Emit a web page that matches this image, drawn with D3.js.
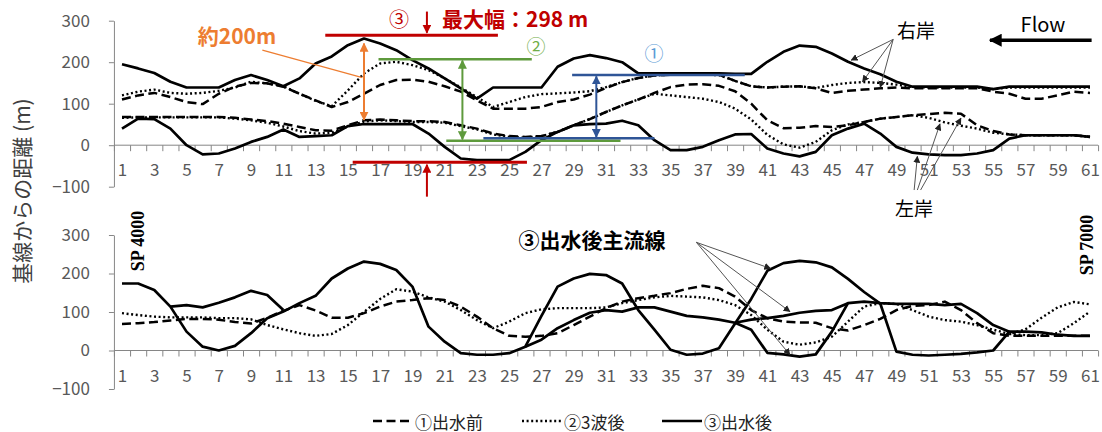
<!DOCTYPE html>
<html>
<head>
<meta charset="utf-8">
<script src="https://cdn.jsdelivr.net/npm/d3@7"></script>
<style>
  body { margin: 0; background: #fff; }
  svg text { font-family: "Noto Sans CJK JP", "Noto Sans", sans-serif; }
</style>
</head>
<body>
<div id="chart"></div>
<script>
// 断面番号 1..61
const sections = d3.range(1, 62);
const oddLabels = sections.filter(d => d % 2 === 1);
const yTicks = [-100, 0, 100, 200, 300];

// 上段：河岸位置 (基線からの距離 m)
const rightBank1 = [110,120,126,116,104,99,124,141,150,149, 141,124,108,92,104,124,145,157,158,153,
  142,129,108,88,88,88,92,104,110,122, 138,152,162,168,170,170,170,170,155,142,
  139,141,142,137,126,131,134,137,139,137, 137,137,137,137,129,124,112,112,120,129, 126];
const rightBank2 = [120,129,134,126,124,126,131,139,153,149, 142,124,107,94,132,173,197,201,193,181,
  161,139,116,92,104,116,123,125,127,130, 140,152,162,168,170,170,170,169,155,142,
  139,141,142,138,145,150,152,150,146,140, 139,139,139,139,135,139,139,139,139,139, 139];
const rightBank3 = [195,185,174,153,139,139,139,157,169,157, 142,161,197,214,241,257,245,229,205,185,
  161,137,112,139,139,139,139,189,209,217, 210,200,173,173,173,173,173,173,172,172,
  201,225,240,237,221,201,185,171,153,141, 141,141,141,141,135,141,141,141,141,141, 141];
const leftBank1 = [68,68,68,68,68,68,68,66,62,58, 52,44,36,35,48,60,62,60,58,58,
  56,48,40,28,22,20,22,32,48,63, 80,96,110,126,140,146,147,143,130,100,
  60,41,42,46,44,48,56,64,68,72, 75,78,76,48,34,26,24,24,24,24, 20];
const leftBank2 = [66,67,67,67,67,67,67,64,60,54, 45,34,28,30,45,57,60,58,56,56,
  54,46,38,26,20,18,22,32,48,63, 80,96,110,124,120,116,112,104,88,62,
  25,2,-6,8,36,50,56,64,68,72, 66,55,47,40,30,26,24,24,24,24, 20];
const leftBank3 = [40,64,63,40,0,-22,-20,-8,8,20, 38,20,22,24,46,51,51,51,51,28,
  -4,-32,-36,-36,-36,-16,12,32,48,51, 52,59,48,12,-12,-12,-4,12,26,27,
  -8,-20,-27,-16,24,40,52,28,-4,-18, -22,-24,-24,-20,-12,16,24,24,24,24, 20];

// 下段：主流線
const main1 = [69,71,74,78,82,82,80,74,70,85, 103,118,104,85,85,97,114,127,131,136,
  131,114,88,58,38,36,38,45,66,88, 110,127,136,142,149,160,168,162,140,105,
  84,75,73,72,58,52,66,82,105,116, 118,127,105,71,45,38,38,38,38,38, 38];
const main2 = [97,92,88,86,86,86,84,84,81,66, 55,45,38,43,66,100,134,159,153,138,
  127,105,79,58,75,97,107,110,110,110, 112,123,131,138,142,140,138,131,118,92,
  54,23,15,21,36,75,114,123,121,105, 88,79,75,66,54,43,55,85,112,126, 120];
const main3 = [174,174,157,114,49,10,0,12,45,84, 101,123,142,187,213,231,225,209,166,62,
  23,-7,-11,-11,-7,10,90,166,187,199, 196,174,105,54,2,-11,-8,6,70,134,
  207,227,233,229,216,186,152,122,-3,-11, -13,-11,-9,-5,0,49,49,47,41,38, 38];
// 分流した区間 [開始断面, 値]
const main2Branch = [[56, [43,40,40,45,71,101]]];
const main3Branch = [
  [4, [114,118,112,124,138,155,144,105]],
  [26, [10,28,58,79,98,105,101,112,112,101,90,86,80,72,54,-6,-10,-16,-10,49,123,127,123,121,121,121,118,121,97,66,49]]
];
const main3Branch2 = [[39, [72,80,84,90,98,103,105,123]]];

const legendItems = [
  { label: '①出水前', style: 'dash' },
  { label: '②3波後', style: 'dot' },
  { label: '③出水後', style: 'solid' }
];

const styles = {
  dash: { dash: '9,4.5', width: 2.5 },
  dot: { dash: '2,2.6', width: 2.4 },
  solid: { dash: null, width: 2.7 }
};

const W = 1102, H = 432;
const svg = d3.select('#chart').append('svg').attr('width', W).attr('height', H);

const x = d3.scaleLinear().domain([1, 61]).range([122, 1090]);
const yTop = d3.scaleLinear().domain([-100, 300]).range([186.7, 20.7]);
const yBot = d3.scaleLinear().domain([-100, 300]).range([389, 235]);

// arrowheads
const defs = svg.append('defs');
const markerColors = { red: '#c00000', green: '#5e9a3c', blue: '#2f5597', orange: '#ed7d31', black: '#000', gray: '#222' };
Object.entries(markerColors).forEach(([name, col]) => {
  const size = name === 'black' ? 13 : (name === 'gray' ? 7 : 9);
  defs.append('marker')
    .attr('id', 'arr-' + name)
    .attr('viewBox', '0 0 10 10')
    .attr('refX', 9).attr('refY', 5)
    .attr('markerUnits', 'userSpaceOnUse')
    .attr('markerWidth', size).attr('markerHeight', size)
    .attr('orient', 'auto-start-reverse')
    .append('path')
    .attr('d', 'M0,0 L10,5 L0,10 z')
    .attr('fill', col);
});

function drawAxes(y) {
  const axisCol = '#868686';
  const yAx = svg.append('g')
    .attr('transform', `translate(${x(0.5)},0)`)
    .call(d3.axisLeft(y).tickValues(yTicks).tickSize(5).tickSizeOuter(0).tickPadding(19));
  yAx.select('.domain').attr('stroke', axisCol);
  yAx.selectAll('.tick line').attr('stroke', axisCol);
  yAx.selectAll('.tick text').attr('fill', '#595959').style('font-size', '17px');

  svg.append('line')
    .attr('x1', x(0.5)).attr('x2', x(61.5))
    .attr('y1', y(0)).attr('y2', y(0))
    .attr('stroke', axisCol);

  const bounds = d3.range(0.5, 62, 1);
  const tickAx = svg.append('g')
    .attr('transform', `translate(0,${y(0)})`)
    .call(d3.axisBottom(x).tickValues(bounds).tickSize(6).tickFormat(''));
  tickAx.select('.domain').remove();
  tickAx.selectAll('.tick line').attr('stroke', axisCol);

  const labAx = svg.append('g')
    .attr('transform', `translate(0,${y(0)})`)
    .call(d3.axisBottom(x).tickValues(oddLabels).tickSize(0).tickPadding(19));
  labAx.select('.domain').remove();
  labAx.selectAll('.tick text').attr('fill', '#595959').style('font-size', '17px');
}

function drawSeries(y, values, style, start = 1) {
  const pts = values.map((v, i) => ({ s: start + i, v }));
  const st = styles[style];
  svg.append('path')
    .datum(pts)
    .attr('fill', 'none')
    .attr('stroke', '#000')
    .attr('stroke-width', st.width)
    .attr('stroke-dasharray', st.dash)
    .attr('stroke-linejoin', 'round')
    .attr('d', d3.line().defined(d => d.v != null).x(d => x(d.s)).y(d => y(d.v)));
}

drawAxes(yTop);
drawAxes(yBot);

// 上段
drawSeries(yTop, leftBank1, 'dash');
drawSeries(yTop, rightBank1, 'dash');
drawSeries(yTop, leftBank2, 'dot');
drawSeries(yTop, rightBank2, 'dot');
drawSeries(yTop, leftBank3, 'solid');
drawSeries(yTop, rightBank3, 'solid');

// 下段
drawSeries(yBot, main1, 'dash');
drawSeries(yBot, main2, 'dot');
main2Branch.forEach(([s, v]) => drawSeries(yBot, v, 'dot', s));
drawSeries(yBot, main3, 'solid');
main3Branch.forEach(([s, v]) => drawSeries(yBot, v, 'solid', s));
main3Branch2.forEach(([s, v]) => drawSeries(yBot, v, 'solid', s));

// ---- annotations (section, value) ----
function hLine(y, val, from, to, col, w) {
  svg.append('line')
    .attr('x1', x(from)).attr('x2', x(to))
    .attr('y1', y(val)).attr('y2', y(val))
    .attr('stroke', col).attr('stroke-width', w);
}
function arrow(y, s1, v1, s2, v2, col, marker, w, both) {
  const l = svg.append('line')
    .attr('x1', x(s1)).attr('y1', y(v1))
    .attr('x2', x(s2)).attr('y2', y(v2))
    .attr('stroke', col).attr('stroke-width', w)
    .attr('marker-end', `url(#arr-${marker})`);
  if (both) l.attr('marker-start', `url(#arr-${marker})`);
}
function label(px, py, text, opts = {}) {
  svg.append('text')
    .attr('x', px).attr('y', py)
    .attr('text-anchor', opts.anchor || 'middle')
    .attr('dominant-baseline', 'central')
    .attr('fill', opts.color || '#000')
    .style('font-size', (opts.size || 18) + 'px')
    .style('font-weight', opts.bold ? 'bold' : 'normal')
    .text(text);
}

// ③ 最大幅
hLine(yTop, 265, 13.6, 24.3, '#c00000', 3);
hLine(yTop, -41, 15.3, 26.1, '#c00000', 3);
arrow(yTop, 19.9, 322, 19.9, 271, '#c00000', 'red', 2);
arrow(yTop, 19.9, -124, 19.9, -47, '#c00000', 'red', 2);
// ②
hLine(yTop, 207, 16.9, 26.4, '#5e9a3c', 2.5);
hLine(yTop, 11, 21.1, 31.9, '#5e9a3c', 2.5);
arrow(yTop, 22.1, 204, 22.1, 14, '#5e9a3c', 'green', 2, true);
// ①
hLine(yTop, 169, 28.9, 39.6, '#2f5597', 2.5);
hLine(yTop, 16.5, 23.4, 34.0, '#2f5597', 2.5);
arrow(yTop, 30.4, 166, 30.4, 19.5, '#2f5597', 'blue', 2, true);
// 約200m
arrow(yTop, 16.0, 245, 16.0, 61, '#ed7d31', 'orange', 2, true);
svg.append('line')
  .attr('x1', x(9.7)).attr('y1', yTop(229))
  .attr('x2', x(15.9)).attr('y2', yTop(163))
  .attr('stroke', '#ed7d31').attr('stroke-width', 1.2);

label(237, 35, '約200m', { color: '#ed7d31', size: 21, bold: true });
label(399, 18, '③', { color: '#c00000', size: 20 });
label(442, 18, '最大幅：298 m', { color: '#c00000', size: 21, bold: true, anchor: 'start' });
label(536, 45, '②', { color: '#70ad47', size: 19 });
label(654, 52, '①', { color: '#5b9bd5', size: 19 });

// 右岸 / 左岸
const rightArrows = [[46.2, 205], [46.9, 153], [48.0, 139.5]];
rightArrows.forEach(([s, v]) => arrow(yTop, 48.8, 255, s, v, '#555', 'gray', 1));
label(916, 29, '右岸', { size: 19 });
const leftArrows = [[50.1, 50.3, -27], [50.3, 51.7, 51], [50.5, 53.0, 65]];
leftArrows.forEach(([s0, s, v]) => arrow(yTop, s0, -108, s, v, '#555', 'gray', 1));
label(914, 207, '左岸', { size: 19 });

// Flow
arrow(yTop, 61.1, 253, 54.8, 253, '#000', 'black', 3.5);
label(1043, 23, 'Flow', { size: 20 });

// 主流線
const mainArrows = [[41.2, 213], [42.4, 101], [42.4, -11]];
mainArrows.forEach(([s, v]) => arrow(yBot, 36.6, 281, s, v, '#555', 'gray', 1));
label(592, 239, '③出水後主流線', { size: 21, bold: true });

// SP labels
[['SP 4000', 138, 241], ['SP 7000', 1087, 245]].forEach(([t, px, py]) => {
  svg.append('text')
    .attr('transform', `translate(${px},${py}) rotate(-90)`)
    .attr('text-anchor', 'middle')
    .attr('dominant-baseline', 'central')
    .style('font-family', '"Liberation Serif", serif')
    .style('font-weight', 'bold')
    .style('font-size', '18px')
    .text(t);
});

// y 軸タイトル
svg.append('text')
  .attr('transform', 'translate(21,191) rotate(-90)')
  .attr('text-anchor', 'middle')
  .attr('dominant-baseline', 'central')
  .attr('fill', '#404040')
  .style('font-size', '21px')
  .text('基線からの距離 (m)');

// 凡例
const legendX = [373, 522, 662];
const leg = svg.append('g').attr('transform', 'translate(0,421)');
legendItems.forEach((d, i) => {
  const st = styles[d.style];
  leg.append('line')
    .attr('x1', legendX[i]).attr('x2', legendX[i] + 40)
    .attr('y1', 0).attr('y2', 0)
    .attr('stroke', '#000')
    .attr('stroke-width', st.width)
    .attr('stroke-dasharray', st.dash);
  leg.append('text')
    .attr('x', legendX[i] + 42).attr('y', 0)
    .attr('dominant-baseline', 'central')
    .attr('fill', '#222')
    .style('font-size', '17px')
    .text(d.label);
});
</script>
</body>
</html>
